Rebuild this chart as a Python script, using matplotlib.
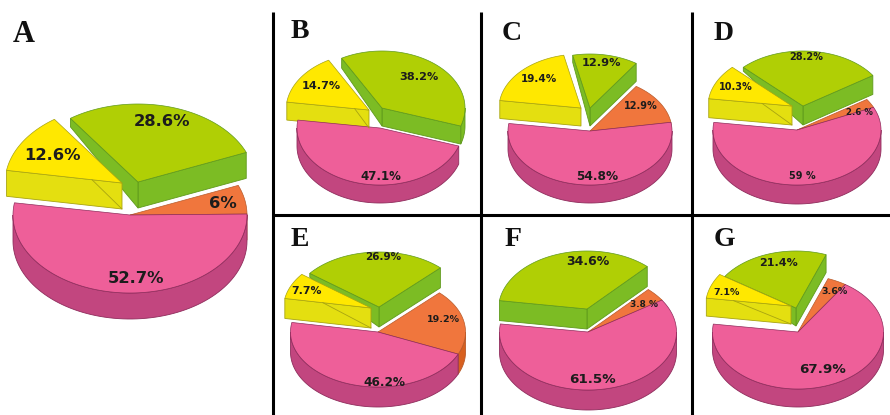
import matplotlib
matplotlib.use('Agg')
import matplotlib.pyplot as plt
from matplotlib.patches import Polygon
import numpy as np

# slice order in every pie: pink, orange, green, yellow (percent)
values_a = [52.7, 6, 28.6, 12.6]
values_b = [47.1, 0, 38.2, 14.7]
values_c = [54.8, 12.9, 12.9, 19.4]
values_d = [59, 2.6, 28.2, 10.3]
values_e = [46.2, 19.2, 26.9, 7.7]
values_f = [61.5, 3.8, 34.6, 0]
values_g = [67.9, 3.6, 21.4, 7.1]

labels_a = ['52.7%', '6%', '28.6%', '12.6%']
labels_b = ['47.1%', '', '38.2%', '14.7%']
labels_c = ['54.8%', '12.9%', '12.9%', '19.4%']
labels_d = ['59 %', '2.6 %', '28.2%', '10.3%']
labels_e = ['46.2%', '19.2%', '26.9%', '7.7%']
labels_f = ['61.5%', '3.8 %', '34.6%', '']
labels_g = ['67.9%', '3.6%', '21.4%', '7.1%']

# layout, in picture pixels
# letter pos, letter size, cx, cy, rx, ry, depth, start angle, green offset, yellow offset, diagonal, green taper
layout = {
    'A': ((24, 35), 22, 130, 215, 117, 78, 26, 171, (8, -33), (-8, -32), 0.26, 0.33),
    'B': ((300, 32), 20, 380, 128, 83, 57, 18, 172, (2, -20), (-11, -18), 0.175, 0.55),
    'C': ((512, 33), 20, 590, 131, 82, 54, 18, 172, (0, -23), (-9, -23), 0, 0.4),
    'D': ((724, 33), 20, 797, 130, 84, 55, 19, 172, (6, -24), (-5, -24), 0.36, 0.2),
    'E': ((300, 239), 20, 378, 332, 87.5, 55, 20, 170, (1, -25), (-7, -24), 0.56, 0.2),
    'F': ((513, 239), 20, 588, 332, 88.5, 58, 20, 172, (-1, -23), (0, 0), 0, 1),
    'G': ((724, 239), 20, 798, 332, 85.5, 57, 18, 172, (-2, -24), (-7, -26), 0.68, 0.2),
}
label_pos = {
    'A': [(136, 278), (223, 203), (162, 121), (52, 155)],
    'B': [(381, 176), (0, 0), (419, 77), (321, 86)],
    'C': [(597, 176), (641, 106), (601, 63), (539, 79)],
    'D': [(802, 176), (859, 112), (806, 57), (736, 87)],
    'E': [(384, 382), (443, 319), (383, 257), (306, 291)],
    'F': [(592, 379), (644, 304), (588, 261), (0, 0)],
    'G': [(823, 369), (834, 291), (779, 263), (727, 292)],
}
label_size = {
    'A': [11.8, 11.8, 11.8, 11.8],
    'B': [8.5, 8, 8.1, 8.1],
    'C': [8.7, 7, 8.2, 7.5],
    'D': [7, 6.2, 7, 7],
    'E': [8.7, 6.8, 7.5, 7.8],
    'F': [9.7, 6.5, 9, 8],
    'G': [9.7, 6.8, 8, 6.8],
}

# top, wall, edge
pink = ('#ee5f99', '#c2467f', '#8f2c5c')
orange = ('#f0763d', '#d8601f', '#b85a2a')
green = ('#b0cf05', '#7cbc24', '#5f9a1c')
yellow = ('#ffe800', '#e4df10', '#a8a410')


def rim(cx, cy, rx, ry, ang):
    t = np.radians(ang)
    return np.column_stack([cx + rx * np.cos(t), cy - ry * np.sin(t)])


def draw_slice(ax, cx, cy, rx, ry, depth, a, b, col, diag=0, taper=1):
    top, wall, edge = col
    down = np.array([0, depth])
    apex = np.array([cx, cy])
    pa = rim(cx, cy, rx, ry, np.array([a]))[0]
    pb = rim(cx, cy, rx, ry, np.array([b]))[0]
    # outer wall, front half only
    for k in range(3):
        lo = max(a, 180 + 360 * k)
        hi = min(b, 360 + 360 * k)
        if hi > lo:
            arc = rim(cx, cy, rx, ry, np.linspace(lo, hi, 80))
            ax.add_patch(Polygon(np.vstack([arc, (arc + down)[::-1]]), fc=wall, ec=edge, lw=0.6))
    # cut walls
    if np.cos(np.radians(a)) > 0:
        ax.add_patch(Polygon([apex, pa, pa + down, apex + down], fc=wall, ec=edge, lw=0.6))
    if np.cos(np.radians(b)) < 0:
        ax.add_patch(Polygon([apex, pb, pb + down * taper, apex + down], fc=wall, ec=edge, lw=0.6))
        if diag > 0:
            p = apex + (pb - apex) * diag
            ax.plot([p[0], cx], [p[1], cy + depth], color=edge, lw=0.6)
    arc = rim(cx, cy, rx, ry, np.linspace(a, b, 120))
    ax.add_patch(Polygon(np.vstack([apex, arc]), fc=top, ec=edge, lw=0.5))


all_values = {'A': values_a, 'B': values_b, 'C': values_c, 'D': values_d,
              'E': values_e, 'F': values_f, 'G': values_g}
all_labels = {'A': labels_a, 'B': labels_b, 'C': labels_c, 'D': labels_d,
              'E': labels_e, 'F': labels_f, 'G': labels_g}

fig = plt.figure(figsize=(8.9, 4.15), dpi=100)
ax = fig.add_axes([0, 0, 1, 1])
ax.set_xlim(0, 890)
ax.set_ylim(415, 0)
ax.axis('off')

for name, vals in all_values.items():
    pos, size, cx, cy, rx, ry, depth, start, off_g, off_y, diag, taper = layout[name]
    edges = start + np.cumsum([0] + vals) * 3.6
    draw_slice(ax, cx + off_g[0], cy + off_g[1], rx, ry, depth, edges[2], edges[3], green, taper=taper)
    if vals[3] > 0:
        draw_slice(ax, cx + off_y[0], cy + off_y[1], rx, ry, depth, edges[3], edges[4], yellow, diag)
    if vals[1] > 0:
        draw_slice(ax, cx, cy, rx, ry, depth, edges[1], edges[2], orange)
    draw_slice(ax, cx, cy, rx, ry, depth, edges[0], edges[1], pink)
    for lab, p, fs in zip(all_labels[name], label_pos[name], label_size[name]):
        if lab:
            ax.text(p[0], p[1], lab, fontsize=fs, fontweight='bold', color='#1c1c1c',
                    family='DejaVu Sans', ha='center', va='center')
    ax.text(pos[0], pos[1], name, fontsize=size, fontweight='bold', color='#111111',
            family='Liberation Serif', ha='center', va='center')

# panel dividers
for x in [273, 481, 692]:
    ax.plot([x, x], [12, 415], color='black', lw=2.2, solid_capstyle='butt')
ax.plot([273, 890], [215, 215], color='black', lw=2.2, solid_capstyle='butt')

fig.savefig('out.png', dpi=100)
